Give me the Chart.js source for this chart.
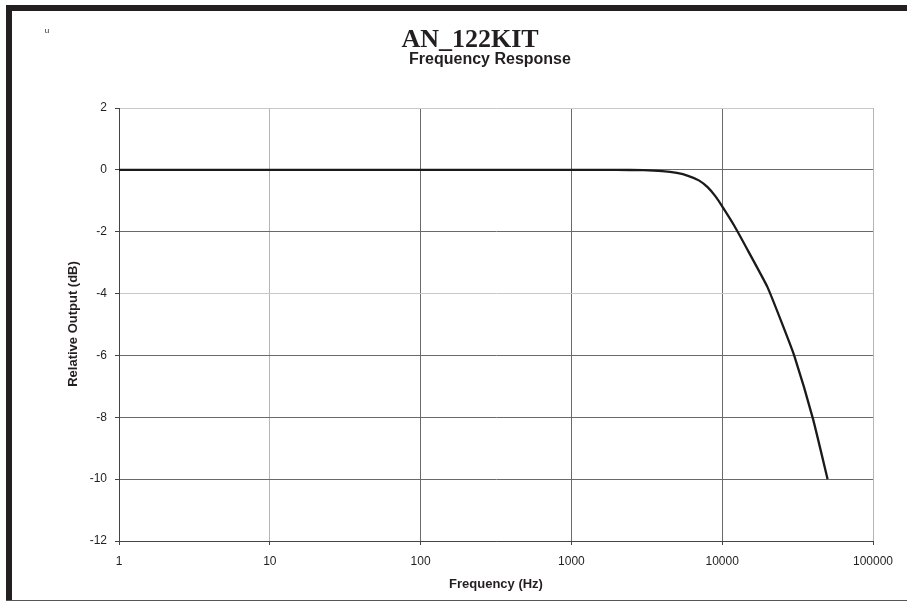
<!DOCTYPE html>
<html>
<head>
<meta charset="utf-8">
<script src="https://cdn.jsdelivr.net/npm/chart.js@4/dist/chart.umd.min.js"></script>
<style>
  body { margin: 0; background: #fff; }
  #wrap { position: relative; width: 907px; height: 602px; overflow: hidden; }
  #topbar { position: absolute; left: 6px; top: 5px; width: 901px; height: 6px; background: #231f20; }
  #leftbar { position: absolute; left: 6px; top: 5px; width: 6px; height: 596px; background: #231f20; }
  #bottomline { position: absolute; left: 6px; top: 600px; width: 901px; height: 1px; background: #555; }
  canvas { position: absolute; left: 0; top: 0; }
</style>
</head>
<body>
<div id="wrap">
  <canvas id="freqChart" width="907" height="602"></canvas>
  <div id="topbar"></div>
  <div id="leftbar"></div>
  <div id="bottomline"></div>
</div>
<script>
// frequency response data
const freqs = [1, 10, 100, 1000, 2000, 3000, 4000, 5000, 6000, 7000, 8000, 9000, 10000, 12000, 15000, 20000, 25000, 30000, 40000, 50000];
const outputDb = [0, 0, 0, 0, 0, -0.01, -0.04, -0.1, -0.2, -0.34, -0.56, -0.85, -1.18, -1.8, -2.66, -3.8, -4.98, -6.0, -8.05, -10];
const xTicks = [1, 10, 100, 1000, 10000, 100000];
const yTicks = [2, 0, -2, -4, -6, -8, -10, -12];

const titleText = 'AN_122KIT';
const subtitleText = 'Frequency Response';
const xTitle = 'Frequency (Hz)';
const yTitle = 'Relative Output (dB)';

// titles and axis labels drawn by hand
const textPlugin = {
  id: 'texts',
  afterDraw(chart) {
    const ctx = chart.ctx;
    ctx.save();
    ctx.fillStyle = '#231f20';
    ctx.font = '8px "Liberation Sans"';
    ctx.textAlign = 'center';
    ctx.fillText('u', 47, 33);
    ctx.font = 'bold 26px "Liberation Serif"';
    ctx.fillText(titleText, 470, 47);
    ctx.font = 'bold 16px "Liberation Sans"';
    ctx.fillText(subtitleText, 490, 64);
    ctx.font = 'bold 13px "Liberation Sans"';
    ctx.fillText(xTitle, 496, 588);
    ctx.translate(77, 324);
    ctx.rotate(-Math.PI / 2);
    ctx.fillText(yTitle, 0, 0);
    ctx.restore();
  }
};

const config = {
  type: 'line',
  data: {
    datasets: [{
      data: freqs.map((f, i) => ({ x: f, y: outputDb[i] })),
      borderColor: '#1a1a1a',
      borderWidth: 2.3,
      pointRadius: 0,
      tension: 0.15,
      fill: false
    }]
  },
  options: {
    responsive: false,
    animation: false,
    layout: { padding: { left: 0, top: 108, right: 34, bottom: 0 } },
    plugins: { legend: { display: false }, tooltip: { enabled: false } },
    scales: {
      x: {
        type: 'logarithmic',
        min: 1,
        max: 100000,
        afterBuildTicks: s => { s.ticks = xTicks.map(v => ({ value: v })); },
        afterFit: s => { s.height = 61; },
        grid: {
          color: ctx => (ctx.tick && (ctx.tick.value === 10 || ctx.tick.value === 100000)) ? '#b5b5b5' : '#6a6a6a',
          tickLength: 4,
          tickColor: '#444'
        },
        border: { color: '#444' },
        ticks: {
          callback: v => String(v),
          maxRotation: 0,
          autoSkip: false,
          padding: 9,
          color: '#231f20',
          font: { family: 'Liberation Sans', size: 12 }
        }
      },
      y: {
        min: -12,
        max: 2,
        afterBuildTicks: s => { s.ticks = yTicks.map(v => ({ value: v })); },
        afterFit: s => { s.width = 119; },
        grid: {
          color: ctx => (ctx.tick && (ctx.tick.value === 2 || ctx.tick.value === -4)) ? '#c8c8c8' : '#6a6a6a',
          tickLength: 4,
          tickColor: '#444'
        },
        border: { color: '#444' },
        ticks: {
          padding: 8,
          color: '#231f20',
          font: { family: 'Liberation Sans', size: 12 }
        }
      }
    }
  },
  plugins: [textPlugin]
};

var freqChart = new Chart(document.getElementById('freqChart'), config);
</script>
</body>
</html>
